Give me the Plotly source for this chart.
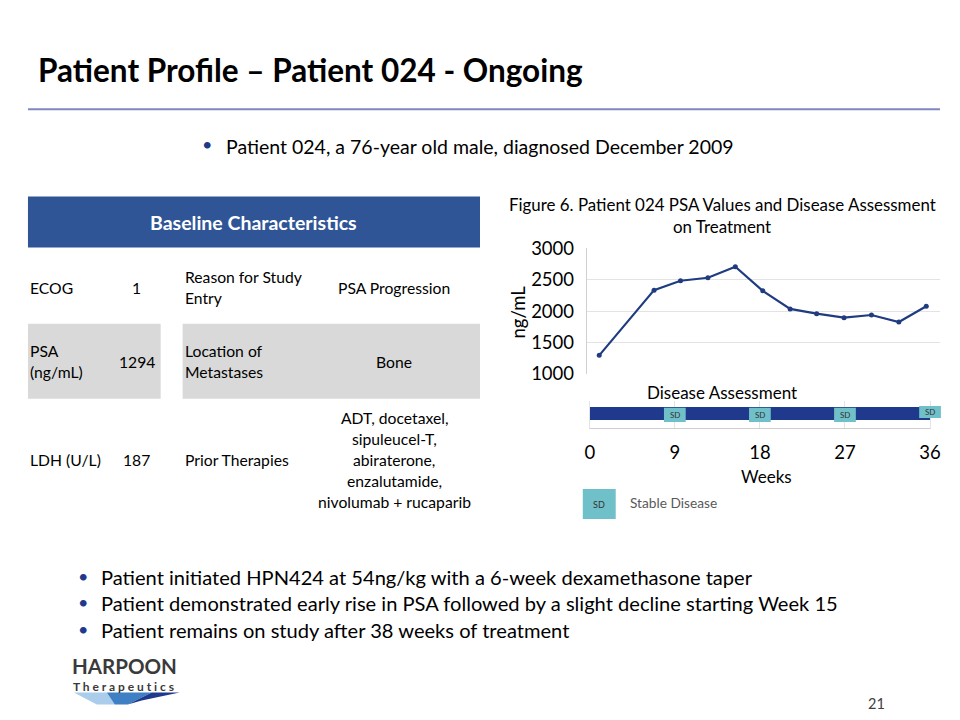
import plotly.graph_objects as go

# ---------------- data ----------------
psa_weeks = [1, 6.8, 9.6, 12.5, 15.4, 18.3, 21.2, 24.0, 26.9, 29.8, 32.7, 35.6]
psa_values = [1294, 2335, 2485, 2533, 2710, 2324, 2035, 1960, 1895, 1938, 1826, 2078]
psa_ticks = [1000, 1500, 2000, 2500, 3000]
week_ticks = [0, 9, 18, 27, 36]
sd_weeks = [9, 18, 27, 36]
sd_labels = ["SD", "SD", "SD", "SD"]
treatment_span = [36]

table_left_labels = ["ECOG", "PSA<br>(ng/mL)", "LDH (U/L)"]
table_left_values = ["1", "1294", "187"]
table_right_labels = ["Reason for Study<br>Entry", "Location of<br>Metastases", "Prior Therapies"]
table_right_values = ["PSA Progression", "Bone",
                      "ADT, docetaxel,<br>sipuleucel-T,<br>abiraterone,<br>enzalutamide,<br>nivolumab + rucaparib"]

top_bullet = "Patient 024, a 76-year old male, diagnosed December 2009"
bottom_bullets = [
    "Patient initiated HPN424 at 54ng/kg with a 6-week dexamethasone taper",
    "Patient demonstrated early rise in PSA followed by a slight decline starting Week 15",
    "Patient remains on study after 38 weeks of treatment",
]

FONT = "Lato"
NAVY = "#1F3A8C"
LINE = "#203C80"
TEAL = "#6FC0C8"
OFFX = 8              # page margin left
OY, KY = 20.0, 0.967  # observed vertical placement of the figure in the photographed page
W, H = 944, 712


def px(x):
    return (x - OFFX) / W


def py(y):
    return 1 - ((y - OY) / KY) / H


fig = go.Figure()

# PSA line
fig.add_trace(go.Scatter(
    x=psa_weeks, y=psa_values, mode="lines+markers",
    line=dict(color=LINE, width=2.2), marker=dict(size=5, color=LINE),
    xaxis="x", yaxis="y", showlegend=False, hoverinfo="x+y"))

# disease assessment bar
fig.add_trace(go.Bar(
    x=treatment_span, y=[0.55], base=0, orientation="h", width=0.47,
    marker=dict(color=NAVY, line=dict(width=0)),
    xaxis="x2", yaxis="y2", showlegend=False, hoverinfo="skip"))

shapes = []
annotations = []

shapes.append(dict(type="line", xref="x2", yref="y2", x0=0, x1=treatment_span[0], y0=0, y1=0,
                   line=dict(color="#BFBFBF", width=1.2)))

for i, w in enumerate(sd_weeks):
    lo, hi = (0.25, 0.75) if i < len(sd_weeks) - 1 else (0.39, 0.82)
    shapes.append(dict(type="rect", xref="x2", yref="y2", x0=w - 1.15, x1=w + 1.15,
                       y0=lo, y1=hi, fillcolor=TEAL, line=dict(width=0), layer="above"))
    annotations.append(dict(xref="x2", yref="y2", x=w, y=(lo + hi) / 2, text=sd_labels[i],
                            showarrow=False, font=dict(family=FONT, size=8, color="#333333")))


def txt(x, y, s, size=15.7, color="#000000", xanchor="left", bold=False, angle=0):
    if bold:
        s = "<b>" + s + "</b>"
    annotations.append(dict(xref="paper", yref="paper", x=px(x), y=py(y), text=s,
                            showarrow=False, xanchor=xanchor, yanchor="middle",
                            textangle=angle,
                            font=dict(family=FONT, size=size, color=color)))


def multiline(x, yc, s, size=15.7, xanchor="left", spacing=21):
    lines = s.split("<br>")
    n = len(lines)
    for k, ln in enumerate(lines):
        txt(x, yc + (k - (n - 1) / 2) * spacing, ln, size=size, xanchor=xanchor)


# title & rule
txt(34, 70, "Patient Profile – Patient 024 - Ongoing", size=31.5, bold=True)
shapes.append(dict(type="line", xref="paper", yref="paper", x0=px(26), x1=px(940),
                   y0=py(109), y1=py(109), line=dict(color="#7F86C0", width=2)))

# top bullet
txt(198, 144, "•", size=18, color=NAVY)
txt(222, 146, top_bullet, size=19.5)

# table
shapes.append(dict(type="rect", xref="paper", yref="paper", x0=px(26), x1=px(479),
                   y0=py(247), y1=py(196), fillcolor="#2F5597", line=dict(width=0)))
txt(252, 222, "Baseline Characteristics", size=19.5, color="#FFFFFF", xanchor="center", bold=True)
shapes.append(dict(type="rect", xref="paper", yref="paper", x0=px(26), x1=px(159),
                   y0=py(398), y1=py(323), fillcolor="#D9D9D9", line=dict(width=0), layer="below"))
shapes.append(dict(type="rect", xref="paper", yref="paper", x0=px(181), x1=px(479),
                   y0=py(398), y1=py(323), fillcolor="#D9D9D9", line=dict(width=0), layer="below"))
row_y = [287, 361, 459]
for i in range(3):
    multiline(26, row_y[i], table_left_labels[i])
    multiline(135, row_y[i], table_left_values[i], xanchor="center")
    multiline(181, row_y[i], table_right_labels[i])
    multiline(393, row_y[i], table_right_values[i], xanchor="center")

# chart texts
txt(722, 204, "Figure 6. Patient 024 PSA Values and Disease Assessment", size=16.9, xanchor="center")
txt(722, 226, "on Treatment", size=16.9, xanchor="center")
txt(517, 311, "ng/mL", size=18.5, xanchor="center", angle=-90)
txt(722, 392, "Disease Assessment", size=17, xanchor="center")

# legend
shapes.append(dict(type="rect", xref="paper", yref="paper", x0=px(582), x1=px(615),
                   y0=py(518), y1=py(488), fillcolor=TEAL, line=dict(width=0)))
txt(598.5, 503, "SD", size=9, color="#333333", xanchor="center")
txt(627, 501, "Stable Disease", size=13.7, color="#595959")

# bottom bullets
for k, b in enumerate(bottom_bullets):
    yy = 575.5 + k * 26.5
    txt(74, yy - 1, "•", size=18, color=NAVY)
    txt(97, yy, b, size=20.1)

# logo
txt(68, 665, "HARPOON", size=20.5, color="#3A3A3A", bold=True)
txt(69, 685.5, "T h e r a p e u t i c s", size=12, color="#3A3A3A", bold=True)
swoosh = [
    ("#A9CDEB", "M 72 691 L 105 691 L 113 703 L 95 703 Z"),
    ("#3F7FC4", "M 105 691 L 150 691 L 126 703 L 113 703 Z"),
    ("#1F3A8C", "M 150 691 L 178 691 L 140 699 L 126 703 Z"),
]
for col, path in swoosh:
    parts = path.split()
    out = []
    j = 0
    while j < len(parts):
        if parts[j] in ("M", "L"):
            out.append(f"{parts[j]} {px(float(parts[j+1])):.5f},{py(float(parts[j+2])):.5f}")
            j += 3
        else:
            out.append(parts[j])
            j += 1
    shapes.append(dict(type="path", xref="paper", yref="paper", path=" ".join(out),
                       fillcolor=col, line=dict(width=0)))

# page number
txt(876, 702, "21", size=14.5, color="#404040", xanchor="center")

ppw = (930 - 589) / 36.0
r0 = (586 - 589) / ppw
r1 = (940 - 589) / ppw
r1b = (946 - 589) / ppw

fig.update_layout(
    width=W, height=H, margin=dict(l=0, r=0, t=0, b=0),
    paper_bgcolor="#FFFFFF", plot_bgcolor="#FFFFFF",
    font=dict(family=FONT, color="#000000"),
    showlegend=False, bargap=0,
    xaxis=dict(domain=[px(586), px(940)], range=[r0, r1], visible=False, fixedrange=True),
    yaxis=dict(domain=[py(373), py(248)], range=[1000, 3000], tickvals=psa_ticks,
               showgrid=True, gridcolor="#E3E3E3", gridwidth=1, zeroline=False,
               showline=True, linecolor="#D0D0D0", linewidth=1,
               ticks="", ticklabelstandoff=8,
               tickfont=dict(family=FONT, size=18.5, color="#000000"), anchor="x"),
    xaxis2=dict(domain=[px(586), px(946)], range=[r0, r1b], tickvals=week_ticks,
                showgrid=True, gridcolor="#E3E3E3", zeroline=False,
                showline=False, ticks="",
                ticklabelstandoff=11,
                tickfont=dict(family=FONT, size=18.5, color="#000000"),
                title=dict(text="Weeks", font=dict(family=FONT, size=17, color="#000000"), standoff=8),
                anchor="y2"),
    yaxis2=dict(domain=[py(428), py(400)], range=[0, 1], visible=False, anchor="x2"),
    shapes=shapes, annotations=annotations,
)

fig.write_html("out.html", config={"displayModeBar": False})
